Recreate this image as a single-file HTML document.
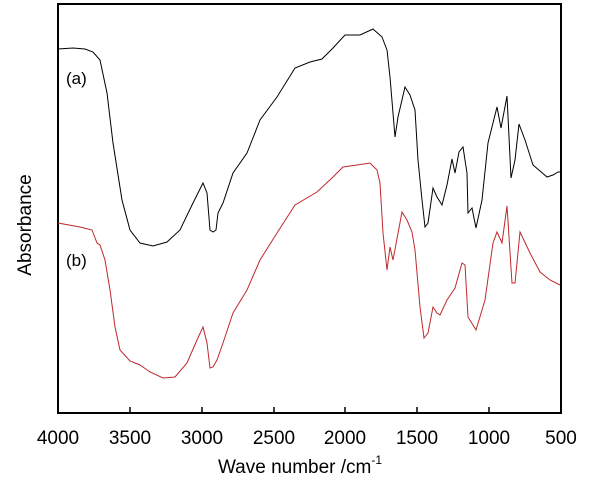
<!DOCTYPE html>
<html><head><style>body{margin:0;background:#fff}svg{display:block}</style></head><body>
<svg width="609" height="482" xmlns="http://www.w3.org/2000/svg" font-family="Liberation Sans, Arial, sans-serif">
<rect x="58" y="4" width="503" height="409" fill="none" stroke="#000" stroke-width="2"/>
<g stroke="#000" stroke-width="1.5">
<line x1="130" y1="413" x2="130" y2="407"/><line x1="202" y1="413" x2="202" y2="407"/><line x1="274" y1="413" x2="274" y2="407"/><line x1="345" y1="413" x2="345" y2="407"/><line x1="417" y1="413" x2="417" y2="407"/><line x1="489" y1="413" x2="489" y2="407"/>
</g>
<g font-size="19" text-anchor="middle" fill="#000">
<text x="58" y="444">4000</text><text x="130" y="444">3500</text><text x="202" y="444">3000</text><text x="274" y="444">2500</text><text x="345" y="444">2000</text><text x="417" y="444">1500</text><text x="489" y="444">1000</text><text x="561" y="444">500</text>
</g>
<text x="300" y="473" font-size="19" text-anchor="middle">Wave number /cm<tspan font-size="12" dy="-9">-1</tspan></text>
<text transform="translate(31,225) rotate(-90)" font-size="19" text-anchor="middle">Absorbance</text>
<text x="66" y="84" font-size="17">(a)</text>
<text x="66" y="266" font-size="17">(b)</text>
<polyline fill="none" stroke="#000" stroke-width="1" points="58,49 73,48 85,49 93,52 100,60 107,93 113,143 122,200 130,230 140,243 153,246 167,242 180,230 193,203 203,183 207,193 210,230 213,232 216,230 218,213 223,203 233,173 247,153 260,120 277,97 295,68 310,62 322,59 333,48 345,35 360,35 373,29 382,37 387,50 390,77 395,137 398,117 405,87 410,95 415,110 418,160 422,200 425,227 428,223 433,188 437,197 442,205 447,185 452,159 455,173 459,152 463,147 467,173 468,213 472,208 476,228 482,200 488,143 497,107 501,128 507,96 511,178 515,160 519,124 525,140 533,165 547,177 553,175 558,172 561,172"/>
<polyline fill="none" stroke="#c0282d" stroke-width="1" points="58,223 80,227 92,230 97,243 100,245 105,260 110,290 115,327 120,350 130,361 140,365 150,372 163,378 175,377 187,363 197,340 203,327 207,343 210,368 213,367 217,360 223,343 233,313 247,290 260,260 277,233 295,205 317,192 333,177 343,167 357,165 370,163 377,170 380,183 383,233 387,270 390,247 393,260 402,212 407,220 412,232 415,250 420,307 424,338 428,333 433,307 437,313 440,315 447,300 455,288 462,263 465,265 468,317 476,330 485,300 493,243 497,232 502,243 507,206 512,283 515,283 520,232 530,253 540,272 550,280 560,285"/>
</svg>
</body></html>
